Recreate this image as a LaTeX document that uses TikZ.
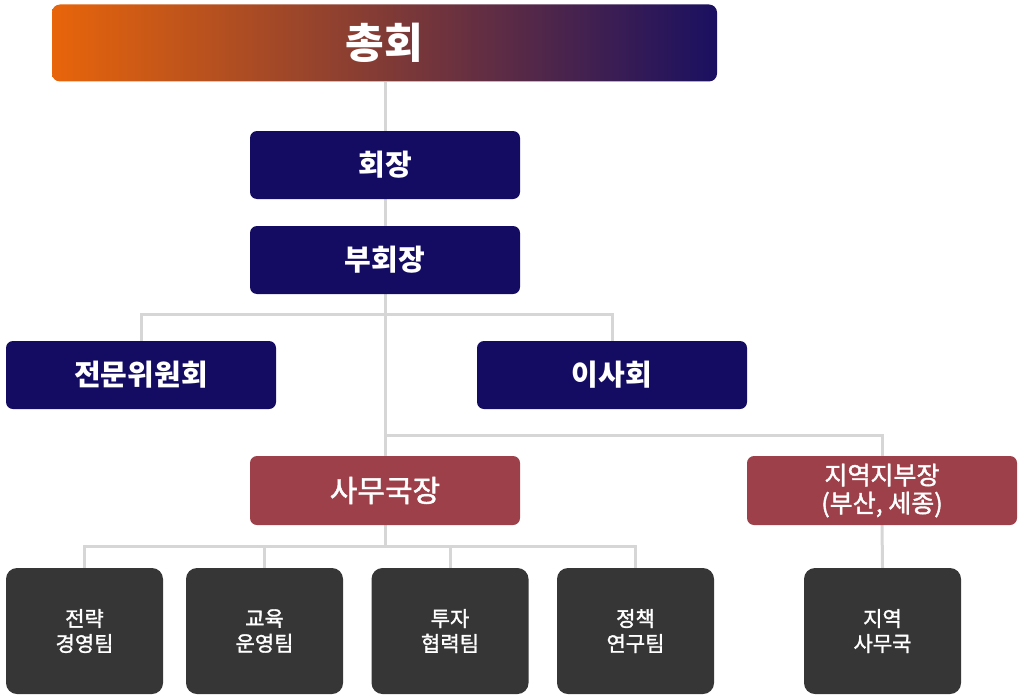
\documentclass[tikz,border=0pt]{standalone}
\usepackage{fontspec}
\setmainfont{Noto Sans CJK KR}
\newfontfamily\medfont{Noto Sans CJK KR}[FakeBold=1.5]
\usetikzlibrary{backgrounds}
\definecolor{navy}{HTML}{140C63}
\definecolor{navyR}{HTML}{1A1061}
\definecolor{orangeL}{HTML}{E8650A}
\definecolor{redbox}{HTML}{9E4049}
\definecolor{graybox}{HTML}{363636}
\definecolor{linegray}{HTML}{D6D6D6}
\tikzset{
  topbox/.style={rounded corners=8pt, minimum width=665pt, minimum height=77pt, text=white, inner sep=0pt,
    font=\fontsize{42}{48}\selectfont\bfseries, left color=orangeL, right color=navyR},
  navybox/.style={rounded corners=7pt, fill=navy, minimum width=270pt, minimum height=68pt, text=white, inner sep=0pt,
    font=\fontsize{29}{33}\selectfont\bfseries},
  redstyle/.style={rounded corners=7pt, fill=redbox, minimum width=270pt, minimum height=69pt, text=white, inner sep=0pt,
    align=center, font=\medfont\fontsize{25}{28}\selectfont},
  teambox/.style={rounded corners=11pt, fill=graybox, minimum width=157pt, minimum height=126pt, text=white, inner sep=0pt,
    align=center, font=\medfont\fontsize{21}{25}\selectfont},
  conn/.style={draw=linegray, line width=3pt}
}
\begin{document}
\begin{tikzpicture}[x=1pt,y=-1pt]
\useasboundingbox (0,0) rectangle (1024,698);
\node[topbox] (chonghoe) at (384.5,43) {총회};
\node[navybox] (hoejang) at (385,165) {회장};
\node[navybox] (buhoejang) at (385,260) {부회장};
\node[navybox] (jeonmun) at (141,375) {전문위원회};
\node[navybox] (isahoe) at (612,375) {이사회};
\node[redstyle, font=\medfont\fontsize{30}{34}\selectfont] (samuguk) at (385,490.5) {사무국장};
\node[redstyle] (jiyeok) at (882,490.5) {지역지부장\\(부산, 세종)};
\node[teambox] (t1) at (84.5,631) {전략\\경영팀};
\node[teambox] (t2) at (264.5,631) {교육\\운영팀};
\node[teambox] (t3) at (450,631) {투자\\협력팀};
\node[teambox] (t4) at (635.5,631) {정책\\연구팀};
\node[teambox] (t5) at (882.5,631) {지역\\사무국};
\coordinate (j1) at (385,314);
\coordinate (j2) at (385,435);
\coordinate (j3) at (385,546);
\begin{pgfonlayer}{background}
\draw[conn] (hoejang.north) -- (hoejang.north |- chonghoe.south);
\draw[conn] (hoejang.south) -- (buhoejang.north);
\draw[conn] (buhoejang.south) -- (j1) -- (j2) -- (samuguk.north);
\draw[conn] (jeonmun.north) -- (jeonmun.north |- j1) -- (isahoe.north |- j1) -- (isahoe.north);
\draw[conn] (j2) -- (jiyeok.north |- j2) -- (jiyeok.north);
\draw[conn] (samuguk.south) -- (j3);
\draw[conn] (t1.north) -- (t1.north |- j3) -- (t4.north |- j3) -- (t4.north);
\draw[conn] (t2.north) -- (t2.north |- j3);
\draw[conn] (t3.north) -- (t3.north |- j3);
\draw[conn] (jiyeok.south) -- (t5.north);
\end{pgfonlayer}
\end{tikzpicture}
\end{document}
